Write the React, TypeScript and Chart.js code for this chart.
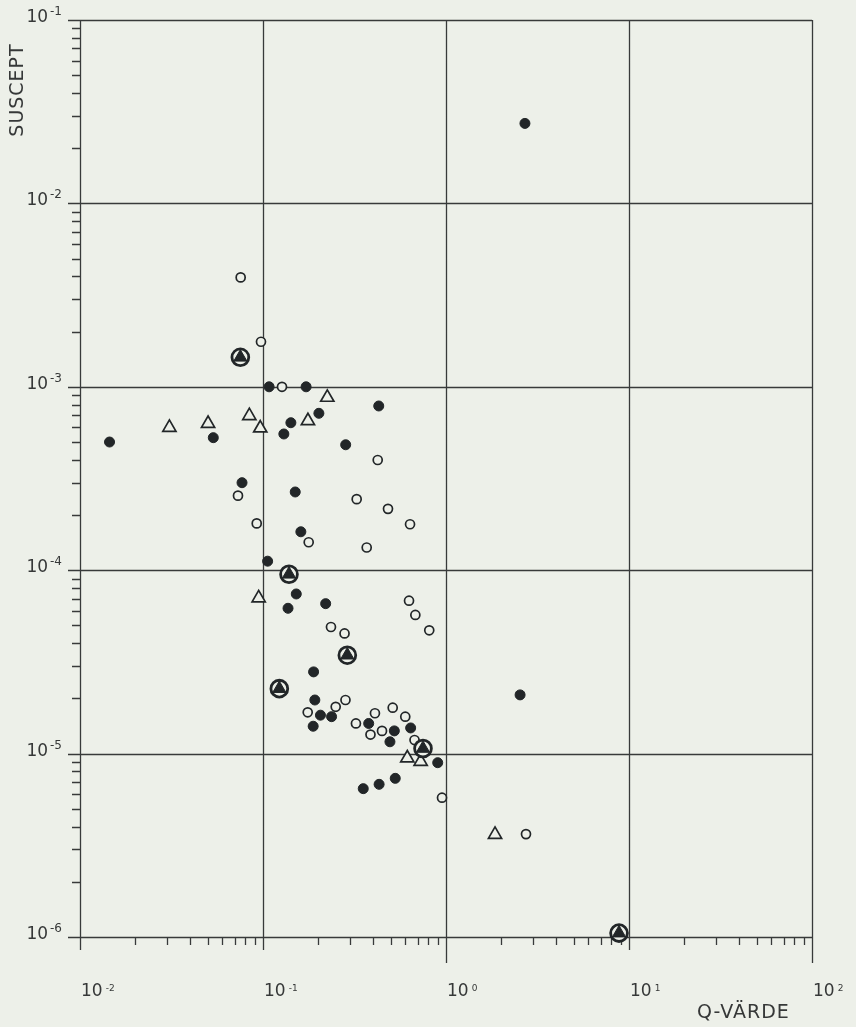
import React, { useEffect, useRef } from "react";
import { Chart, registerables } from "chart.js";

Chart.register(...registerables);

// ---- data (Q-värde, susceptibilitet) ----
const qFilled = [2.70, 0.108, 0.172, 0.429, 0.202, 0.142, 0.130, 0.0145, 0.0535, 0.283, 0.0768, 0.150, 0.161, 0.106, 0.152, 0.137, 0.220, 0.189, 0.192, 0.206, 0.237, 0.188, 0.378, 0.522, 0.494, 0.641, 0.901, 0.528, 0.431, 0.353, 2.54];
const susFilled = [2.73e-2, 1.0e-3, 1.0e-3, 7.86e-4, 7.17e-4, 6.37e-4, 5.53e-4, 5.0e-4, 5.28e-4, 4.83e-4, 3.0e-4, 2.67e-4, 1.62e-4, 1.12e-4, 7.42e-5, 6.2e-5, 6.57e-5, 2.79e-5, 1.96e-5, 1.62e-5, 1.59e-5, 1.41e-5, 1.46e-5, 1.33e-5, 1.16e-5, 1.38e-5, 8.92e-6, 7.33e-6, 6.80e-6, 6.44e-6, 2.09e-5];

const qOpen = [0.0755, 0.0975, 0.127, 0.4235, 0.073, 0.325, 0.482, 0.0924, 0.636, 0.1777, 0.3687, 0.628, 0.68, 0.81, 0.2352, 0.279, 0.2496, 0.2823, 0.1755, 0.322, 0.409, 0.3867, 0.5114, 0.599, 0.447, 0.673, 0.951, 2.736];
const susOpen = [3.95e-3, 1.76e-3, 1.0e-3, 3.99e-4, 2.55e-4, 2.44e-4, 2.16e-4, 1.80e-4, 1.78e-4, 1.42e-4, 1.33e-4, 6.82e-5, 5.70e-5, 4.70e-5, 4.90e-5, 4.52e-5, 1.80e-5, 1.96e-5, 1.68e-5, 1.46e-5, 1.66e-5, 1.27e-5, 1.78e-5, 1.59e-5, 1.33e-5, 1.186e-5, 5.75e-6, 3.64e-6];

const qTri = [0.2246, 0.0842, 0.176, 0.0308, 0.0501, 0.0966, 0.0947, 0.6145, 0.727, 1.853];
const susTri = [8.75e-4, 6.95e-4, 6.52e-4, 6.0e-4, 6.3e-4, 5.95e-4, 7.05e-5, 9.45e-6, 9.05e-6, 3.62e-6];

const qCirc = [0.0752, 0.1387, 0.2889, 0.1228, 0.7487, 8.82];
const susCirc = [1.448e-3, 9.5e-5, 3.44e-5, 2.26e-5, 1.066e-5, 1.05e-6];

// ---- axes ----
const xDecadeExps = [-2, -1, 0, 1, 2];
const xTickLabels = ["-2", "-1", "0", "1", "2"];
const xLongTick = [false, false, true, false, true];
const yDecadeExps = [-1, -2, -3, -4, -5, -6];
const yTickLabels = ["-1", "-2", "-3", "-4", "-5", "-6"];
const minorMultipliers = [2, 3, 4, 5, 6, 7, 8, 9];
const xAxisTitle = "Q-VÄRDE";
const yAxisTitle = "SUSCEPT";

const BG = "#edf0e9";
const INK = "#222628";
const LINE = "#383a3a";
const TEXT = "#363838";
const FONT = '"DejaVu Sans", sans-serif';

const zip = (xs: number[], ys: number[]) => xs.map((x, i) => ({ x, y: ys[i] }));

const plotterPlugin = {
  id: "plotter",
  beforeDraw(chart: any) {
    const { ctx, width, height } = chart;
    ctx.save();
    ctx.fillStyle = BG;
    ctx.fillRect(0, 0, width, height);
    ctx.restore();
  },
  beforeDatasetsDraw(chart: any) {
    const { ctx, chartArea: a, scales } = chart;
    const xs = scales.x;
    const ys = scales.y;
    ctx.save();
    ctx.strokeStyle = LINE;
    ctx.lineWidth = 1.3;
    ctx.beginPath();
    yDecadeExps.forEach((e) => {
      const py = Math.round(ys.getPixelForValue(Math.pow(10, e))) + 0.5;
      ctx.moveTo(a.left - 12, py);
      ctx.lineTo(a.right, py);
    });
    xDecadeExps.forEach((e, i) => {
      const px = Math.round(xs.getPixelForValue(Math.pow(10, e))) + 0.5;
      ctx.moveTo(px, a.top);
      ctx.lineTo(px, a.bottom + (xLongTick[i] ? 26 : 13));
    });
    // minor ticks
    for (let d = -6; d < -1; d++) {
      minorMultipliers.forEach((m) => {
        const py = Math.round(ys.getPixelForValue(m * Math.pow(10, d))) + 0.5;
        ctx.moveTo(a.left - 8, py);
        ctx.lineTo(a.left, py);
      });
    }
    for (let d = -2; d < 2; d++) {
      minorMultipliers.forEach((m) => {
        const px = Math.round(xs.getPixelForValue(m * Math.pow(10, d))) + 0.5;
        ctx.moveTo(px, a.bottom);
        ctx.lineTo(px, a.bottom + 8);
      });
    }
    ctx.stroke();
    ctx.restore();
  },
  afterDraw(chart: any) {
    const { ctx, scales } = chart;
    const xs = scales.x;
    const ys = scales.y;
    ctx.save();
    ctx.fillStyle = TEXT;
    ctx.textBaseline = "alphabetic";
    // y tick labels
    yDecadeExps.forEach((e, i) => {
      const py = ys.getPixelForValue(Math.pow(10, e));
      ctx.font = `12px ${FONT}`;
      ctx.textAlign = "right";
      const supW = ctx.measureText(yTickLabels[i]).width;
      ctx.fillText(yTickLabels[i], 62, py - 5);
      ctx.font = `17px ${FONT}`;
      ctx.fillText("10", 62 - supW - 2, py + 2);
    });
    // x tick labels
    xDecadeExps.forEach((e, i) => {
      const px = xs.getPixelForValue(Math.pow(10, e));
      ctx.textAlign = "left";
      ctx.font = `17px ${FONT}`;
      const w = ctx.measureText("10").width;
      ctx.fillText("10", px + 1, 996);
      ctx.font = `9px ${FONT}`;
      ctx.fillText(xTickLabels[i], px + 1 + w + 3, 990.5);
    });
    // axis titles
    ctx.font = `19px ${FONT}`;
    (ctx as any).letterSpacing = "1px";
    ctx.textAlign = "left";
    ctx.fillText(xAxisTitle, 697, 1018);
    ctx.save();
    ctx.translate(23, 90);
    ctx.rotate(-Math.PI / 2);
    ctx.textAlign = "center";
    ctx.fillText(yAxisTitle, 0, 0);
    ctx.restore();
    ctx.restore();
  },
};

export default function App() {
  const ref = useRef<HTMLCanvasElement | null>(null);
  useEffect(() => {
    if (!ref.current) return;
    const chart = new Chart(ref.current, {
      type: "scatter",
      data: {
        datasets: [
          {
            label: "inner triangle",
            data: zip(qCirc, susCirc),
            pointStyle: "triangle",
            pointRadius: 7.6,
            backgroundColor: INK,
            borderColor: INK,
            borderWidth: 1,
            order: 0,
            clip: false,
          },
          {
            label: "ring",
            data: zip(qCirc, susCirc),
            pointStyle: "circle",
            pointRadius: 8.4,
            backgroundColor: BG,
            borderColor: INK,
            borderWidth: 2.8,
            order: 1,
            clip: false,
          },
          {
            label: "filled",
            data: zip(qFilled, susFilled),
            pointStyle: "circle",
            pointRadius: 5,
            backgroundColor: INK,
            borderColor: INK,
            borderWidth: 1,
            order: 2,
            clip: false,
          },
          {
            label: "open",
            data: zip(qOpen, susOpen),
            pointStyle: "circle",
            pointRadius: 4.5,
            backgroundColor: BG,
            borderColor: INK,
            borderWidth: 1.7,
            order: 3,
            clip: false,
          },
          {
            label: "triangle",
            data: zip(qTri, susTri),
            pointStyle: "triangle",
            pointRadius: 7.6,
            backgroundColor: BG,
            borderColor: INK,
            borderWidth: 1.7,
            order: 4,
            clip: false,
          },
        ],
      },
      options: {
        animation: false,
        responsive: false,
        events: [],
        layout: { padding: { left: 80, top: 20, right: 44, bottom: 90 } },
        plugins: { legend: { display: false }, tooltip: { enabled: false } },
        scales: {
          x: { type: "logarithmic", min: 0.01, max: 100, display: false },
          y: { type: "logarithmic", min: 1e-6, max: 0.1, display: false },
        },
      },
      plugins: [plotterPlugin],
    });
    return () => chart.destroy();
  }, []);
  return (
    <div style={{ position: "fixed", left: 0, top: 0, width: 856, height: 1027, background: BG }}>
      <canvas ref={ref} width={856} height={1027} style={{ display: "block" }} />
    </div>
  );
}
